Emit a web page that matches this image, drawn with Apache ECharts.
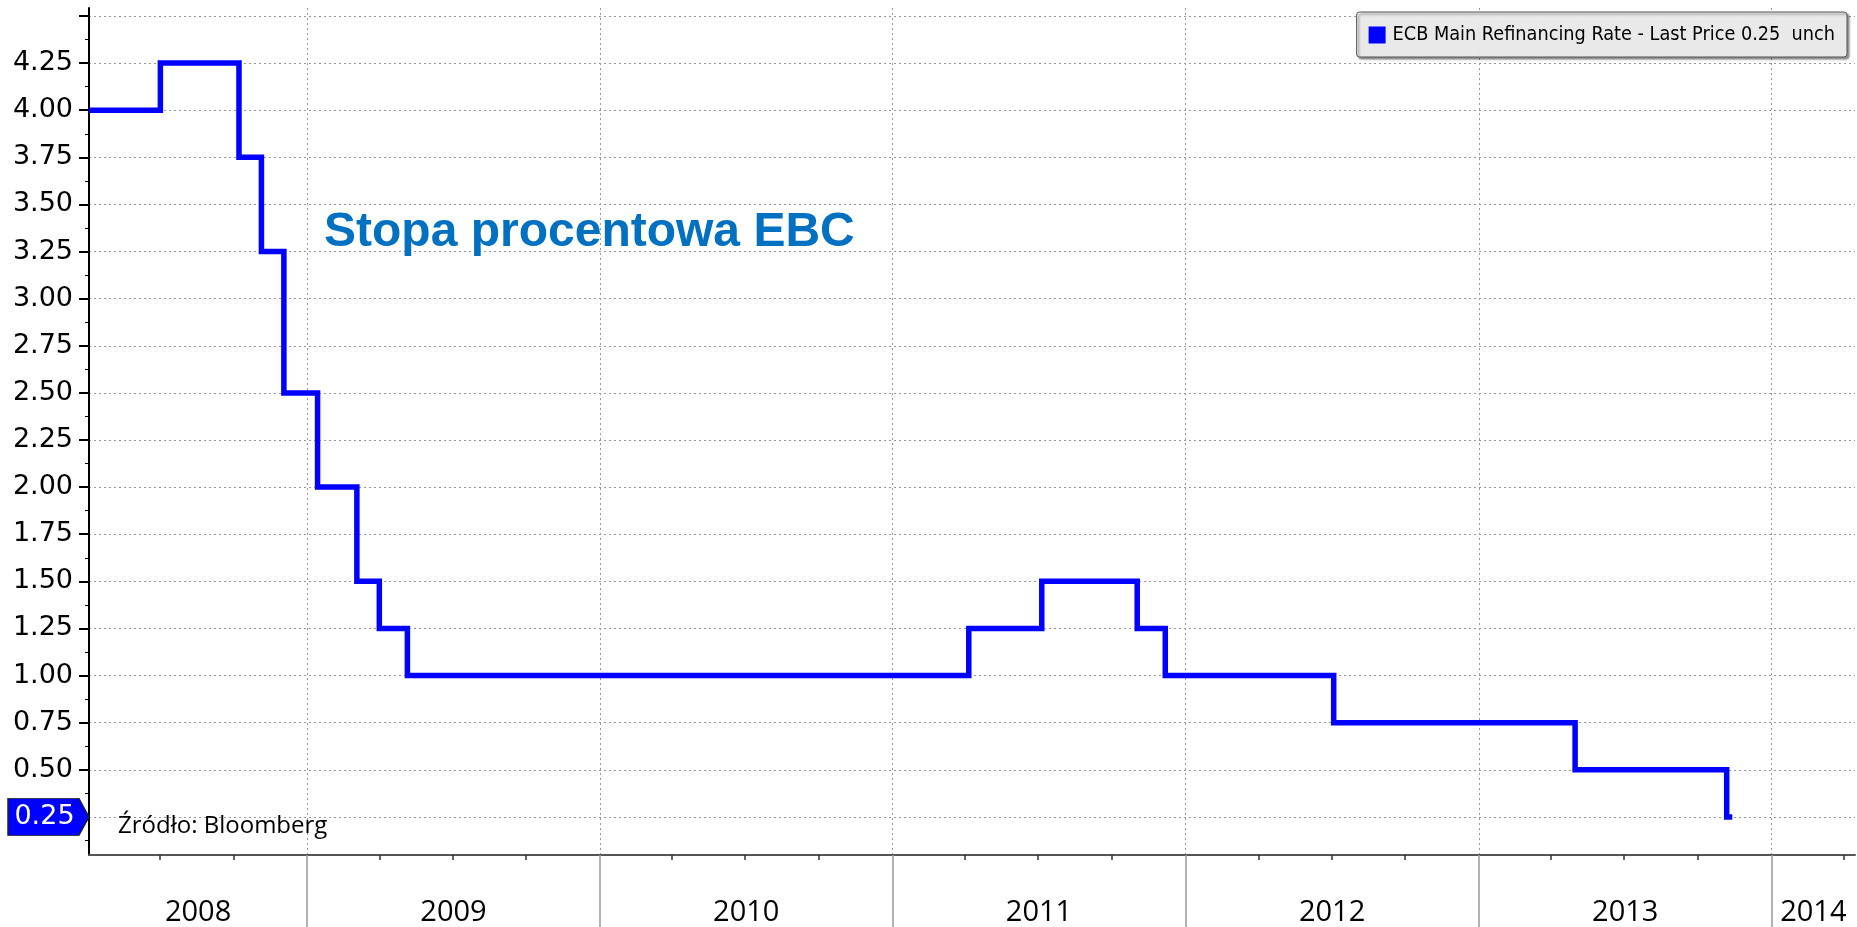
<!DOCTYPE html>
<html><head><meta charset="utf-8">
<script src="https://cdn.jsdelivr.net/npm/echarts@6/dist/echarts.min.js"></script>
<style>html,body{margin:0;padding:0;background:#fff}#c{width:1857px;height:927px}</style>
</head><body><div id="c"></div>
<script>
// ---- data ----
const seriesName = 'ECB Main Refinancing Rate';
const chartTitle = 'Stopa procentowa EBC';
const sourceNote = 'Źródło: Bloomberg';
const changeDates = ['2008-04-04','2008-07-02','2008-10-08','2008-11-05','2008-12-03','2009-01-14','2009-03-04','2009-04-01','2009-05-06','2011-04-06','2011-07-06','2011-11-02','2011-12-07','2012-07-04','2013-05-01','2013-11-06','2013-11-13'];
const rates = [4.00,4.25,3.75,3.25,2.50,2.00,1.50,1.25,1.00,1.25,1.50,1.25,1.00,0.75,0.50,0.25,0.25];
const yTicks = [0.25,0.50,0.75,1.00,1.25,1.50,1.75,2.00,2.25,2.50,2.75,3.00,3.25,3.50,3.75,4.00,4.25,4.50];
const yearTicks = [2008,2009,2010,2011,2012,2013,2014];
const axisStart = '2008-04-04';
const axisEnd = '2014-04-15';

// ---- derived ----
const toTime = s => { const [y,m,d] = s.split('-').map(Number); return Date.UTC(y, m-1, d); };
const xMin = toTime(axisStart), xMax = toTime(axisEnd);
const yearStarts = yearTicks.slice(1).map(y => Date.UTC(y,0,1));
const quarterTicks = [];
yearTicks.forEach(y => [3,6,9].forEach(m => { const t = Date.UTC(y,m,1); if (t > xMin && t < xMax) quarterTicks.push(t); }));
const yearLabelPos = yearTicks.map(y => {
  const a = Math.max(xMin, Date.UTC(y,0,1));
  const b = Math.min(xMax, Date.UTC(y+1,0,1));
  return (a + b) / 2;
});
const seriesData = changeDates.map((d,i) => [toTime(d), rates[i]]);
const last = rates[rates.length-1];
const yMax = yTicks[yTicks.length-1];

const chart = echarts.init(document.getElementById('c'));
chart.setOption({
  animation: false,
  backgroundColor: '#fff',
  title: [
    {text: chartTitle, left: 324, top: 209, padding: 0,
     textStyle: {fontFamily: '"Liberation Sans", Arial', fontWeight: 'bold', fontSize: 48, color: '#0070c0'}},
    {text: sourceNote, left: 118, top: 814, padding: 0,
     textStyle: {fontFamily: '"Open Sans"', fontWeight: 'normal', fontSize: 24, color: '#000'}}
  ],
  legend: {
    right: 10, top: 12, icon: 'rect', itemWidth: 17, itemHeight: 17,
    padding: [13, 12, 12, 12], backgroundColor: 'rgba(240,240,240,0.92)',
    borderColor: '#555', borderWidth: 1, borderRadius: 3,
    shadowColor: 'rgba(0,0,0,0.45)', shadowBlur: 2, shadowOffsetX: 2, shadowOffsetY: 2,
    textStyle: {fontFamily: '"DejaVu Sans Condensed", "DejaVu Sans"', fontSize: 19.7, color: '#000', padding: [0, 0, 0, 2]},
    formatter: n => n + ' - Last Price ' + last.toFixed(2) + '  unch',
    data: [{name: seriesName, itemStyle: {color: '#0000ff'}}]
  },
  grid: [
    {left: 89, right: 2, top: 16, bottom: 63},
    {left: 89, right: 2, top: 8, bottom: 71}
  ],
  xAxis: [
    {gridIndex: 0, type: 'value', min: xMin, max: xMax, show: false, splitLine: {show: false}},
    {gridIndex: 1, type: 'value', min: xMin, max: xMax, position: 'bottom',
     axisLine: {show: true, onZero: false, lineStyle: {color: '#555', width: 2}},
     axisTick: {show: true, customValues: quarterTicks, length: 5, lineStyle: {color: '#333', width: 1.5}},
     axisLabel: {show: true, customValues: yearLabelPos, formatter: v => String(new Date(v).getUTCFullYear()),
       margin: 43, fontFamily: '"Open Sans"', fontSize: 29, color: '#000'},
     splitLine: {show: false}},
    {gridIndex: 1, type: 'value', min: xMin, max: xMax, position: 'bottom',
     axisLine: {show: false, onZero: false},
     axisTick: {show: true, customValues: yearStarts, length: 80, lineStyle: {color: '#999', width: 1.5}},
     axisLabel: {show: false},
     splitLine: {show: true, lineStyle: {color: '#999', width: 1, type: [2, 3]}}}
  ],
  yAxis: [
    {gridIndex: 0, type: 'value', min: 0, max: yMax, interval: 0.25,
     axisLine: {show: false},
     axisTick: {show: true, customValues: yTicks, length: 10, lineStyle: {color: '#000', width: 2}},
     minorTick: {show: true, splitNumber: 2, length: 4, lineStyle: {color: '#000', width: 1}},
     axisLabel: {customValues: yTicks.slice(0, -1), formatter: v => Number(v).toFixed(2), margin: 16,
       fontFamily: '"DejaVu Sans"', fontSize: 27, color: '#000'},
     splitLine: {show: true, lineStyle: {color: '#999', width: 1, type: [2, 3]}}},
    {gridIndex: 1, type: 'value', min: 0, max: 1,
     axisLine: {show: true, onZero: false, lineStyle: {color: '#000', width: 2}},
     axisTick: {show: false}, axisLabel: {show: false}, splitLine: {show: false}}
  ],
  series: [{
    name: seriesName, type: 'line', xAxisIndex: 0, yAxisIndex: 0, step: 'end',
    data: seriesData, symbol: 'none', showSymbol: false, clip: false,
    lineStyle: {color: '#0000ff', width: 5.5, join: 'miter'},
    itemStyle: {color: '#0000ff'},
    markPoint: {
      silent: true,
      symbol: 'path://M0,0L70,0L80,18.5L70,37L0,37Z',
      symbolSize: [81, 37], symbolKeepAspect: false, symbolOffset: [-40.5, 0],
      itemStyle: {color: '#0000ff', borderColor: '#222', borderWidth: 1},
      label: {show: true, color: '#fff', fontFamily: '"DejaVu Sans"', fontSize: 27, offset: [-4, 0],
        formatter: p => Number(p.value).toFixed(2)},
      data: [{coord: [xMin, last], value: last}]
    }
  }]
});
</script></body></html>
